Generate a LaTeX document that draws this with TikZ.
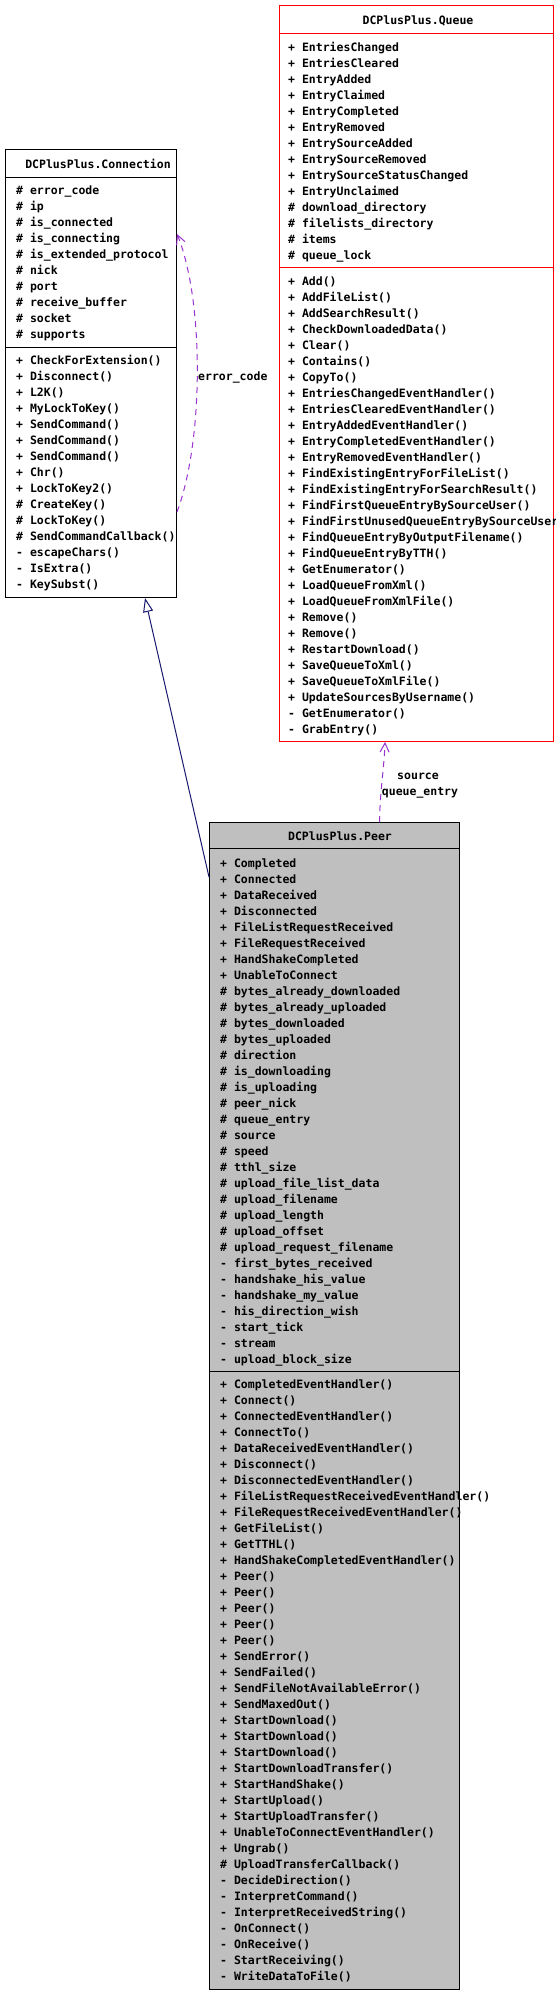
\documentclass[tikz,border=0pt]{standalone}
\usepackage{fontspec}
\setmonofont{DejaVu Sans Mono}
\usetikzlibrary{calc,arrows.meta}

\definecolor{usagecol}{HTML}{9A32CD}
\definecolor{inhcol}{HTML}{191970}

\tikzset{
  classbox/.style={draw,line width=1pt,inner sep=0pt,anchor=north west},
  member/.style={anchor=base west,inner sep=0pt,font=\ttfamily\bfseries\fontsize{11.5}{16}\selectfont},
  classtitle/.style={anchor=base,inner sep=0pt,font=\ttfamily\bfseries\fontsize{11.5}{16}\selectfont},
  usage/.style={draw=usagecol,line width=1pt,dash pattern=on 6pt off 5pt,-{Straight Barb[length=9pt,width=9pt]}},
  inherit/.style={draw=inhcol,line width=1pt,-{Triangle[open,length=14pt,width=10pt,fill=white]}}
}

\begin{document}
\begin{tikzpicture}[x=1pt,y=-1pt]
  \useasboundingbox (0,0) rectangle (556,1994);

  % Connection
  \node[classbox,minimum width=171pt,minimum height=448pt] (connection) at (5,149) {};
  \node[classtitle] (connection-title) at (98,168) {DCPlusPlus.Connection};
  \draw[line width=1pt] ($(connection.north west)+(0,28)$) -- ($(connection.north east)+(0,28)$);
  \draw[line width=1pt] ($(connection.north west)+(0,198)$) -- ($(connection.north east)+(0,198)$);
  \foreach \txt [count=\i] in {\# error\_code,\# ip,\# is\_connected,\# is\_connecting,
      \# is\_extended\_protocol,\# nick,\# port,\# receive\_buffer,\# socket,\# supports}
    \node[member] (ca-\i) at (16,{194+16*(\i-1)}) {\txt};
  \foreach \txt [count=\i] in {+ CheckForExtension(),+ Disconnect(),+ L2K(),+ MyLockToKey(),
      + SendCommand(),+ SendCommand(),+ SendCommand(),+ Chr(),+ LockToKey2(),\# CreateKey(),
      \# LockToKey(),\# SendCommandCallback(),- escapeChars(),- IsExtra(),- KeySubst()}
    \node[member] (cm-\i) at (16,{364+16*(\i-1)}) {\txt};

  % Queue
  \node[classbox,draw=red,minimum width=274pt,minimum height=736pt] (queue) at (279,5) {};
  \node[classtitle] (queue-title) at (418,24) {DCPlusPlus.Queue};
  \draw[line width=1pt,red] ($(queue.north west)+(0,28)$) -- ($(queue.north east)+(0,28)$);
  \draw[line width=1pt,red] ($(queue.north west)+(0,262)$) -- ($(queue.north east)+(0,262)$);
  \foreach \txt [count=\i] in {+ EntriesChanged,+ EntriesCleared,+ EntryAdded,+ EntryClaimed,
      + EntryCompleted,+ EntryRemoved,+ EntrySourceAdded,+ EntrySourceRemoved,
      + EntrySourceStatusChanged,+ EntryUnclaimed,\# download\_directory,
      \# filelists\_directory,\# items,\# queue\_lock}
    \node[member] (qa-\i) at (288,{51+16*(\i-1)}) {\txt};
  \foreach \txt [count=\i] in {+ Add(),+ AddFileList(),+ AddSearchResult(),+ CheckDownloadedData(),
      + Clear(),+ Contains(),+ CopyTo(),+ EntriesChangedEventHandler(),
      + EntriesClearedEventHandler(),+ EntryAddedEventHandler(),+ EntryCompletedEventHandler(),
      + EntryRemovedEventHandler(),+ FindExistingEntryForFileList(),
      + FindExistingEntryForSearchResult(),+ FindFirstQueueEntryBySourceUser(),
      + FindFirstUnusedQueueEntryBySourceUser(),+ FindQueueEntryByOutputFilename(),
      + FindQueueEntryByTTH(),+ GetEnumerator(),+ LoadQueueFromXml(),+ LoadQueueFromXmlFile(),
      + Remove(),+ Remove(),+ RestartDownload(),+ SaveQueueToXml(),+ SaveQueueToXmlFile(),
      + UpdateSourcesByUsername(),- GetEnumerator(),- GrabEntry()}
    \node[member] (qm-\i) at (288,{285+16*(\i-1)}) {\txt};

  % Peer
  \node[classbox,fill=gray!50,minimum width=250pt,minimum height=1167pt] (peer) at (209,822) {};
  \node[classtitle] (peer-title) at (340,840) {DCPlusPlus.Peer};
  \draw[line width=1pt] ($(peer.north west)+(0,26)$) -- ($(peer.north east)+(0,26)$);
  \draw[line width=1pt] ($(peer.north west)+(0,549)$) -- ($(peer.north east)+(0,549)$);
  \foreach \txt [count=\i] in {+ Completed,+ Connected,+ DataReceived,+ Disconnected,
      + FileListRequestReceived,+ FileRequestReceived,+ HandShakeCompleted,+ UnableToConnect,
      \# bytes\_already\_downloaded,\# bytes\_already\_uploaded,\# bytes\_downloaded,
      \# bytes\_uploaded,\# direction,\# is\_downloading,\# is\_uploading,\# peer\_nick,
      \# queue\_entry,\# source,\# speed,\# tthl\_size,\# upload\_file\_list\_data,
      \# upload\_filename,\# upload\_length,\# upload\_offset,\# upload\_request\_filename,
      - first\_bytes\_received,- handshake\_his\_value,- handshake\_my\_value,
      - his\_direction\_wish,- start\_tick,- stream,- upload\_block\_size}
    \node[member] (pa-\i) at (220,{867+16*(\i-1)}) {\txt};
  \foreach \txt [count=\i] in {+ CompletedEventHandler(),+ Connect(),+ ConnectedEventHandler(),
      + ConnectTo(),+ DataReceivedEventHandler(),+ Disconnect(),+ DisconnectedEventHandler(),
      + FileListRequestReceivedEventHandler(),+ FileRequestReceivedEventHandler(),
      + GetFileList(),+ GetTTHL(),+ HandShakeCompletedEventHandler(),+ Peer(),+ Peer(),
      + Peer(),+ Peer(),+ Peer(),+ SendError(),+ SendFailed(),+ SendFileNotAvailableError(),
      + SendMaxedOut(),+ StartDownload(),+ StartDownload(),+ StartDownload(),
      + StartDownloadTransfer(),+ StartHandShake(),+ StartUpload(),+ StartUploadTransfer(),
      + UnableToConnectEventHandler(),+ Ungrab(),\# UploadTransferCallback(),
      - DecideDirection(),- InterpretCommand(),- InterpretReceivedString(),- OnConnect(),
      - OnReceive(),- StartReceiving(),- WriteDataToFile()}
    \node[member] (pm-\i) at (220,{1388+16*(\i-1)}) {\txt};

  % relations
  \draw[inherit] ($(peer.north west)+(0,55)$) -- ($(connection.south east)+(-32,0)$);
  \draw[usage] ($(peer.north)+(45,0)$) .. controls (380,790) and (384,770) .. ($(queue.south west)+(106,0)$);
  \node[classtitle] (lbl-source) at (418,779) {source};
  \node[classtitle] (lbl-entry) at (420,795) {queue\_entry};
  \draw[usage] ($(connection.north east)+(0,363)$) .. controls (204,440) and (204,300) .. ($(connection.north east)+(0,85)$);
  \node[member] (lbl-error) at (198,380) {error\_code};
\end{tikzpicture}
\end{document}
